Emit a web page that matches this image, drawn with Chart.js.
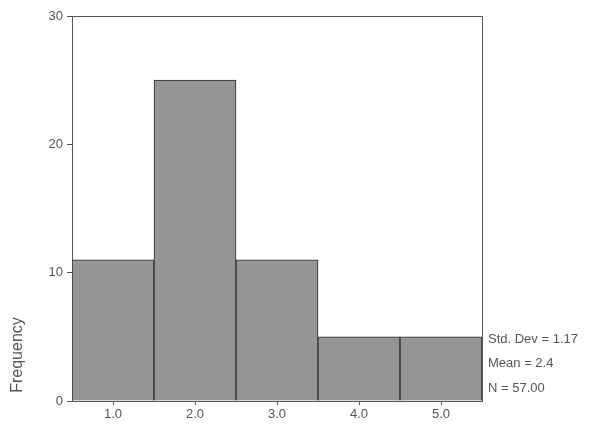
<!DOCTYPE html>
<html>
<head>
<meta charset="utf-8">
<script src="https://cdn.jsdelivr.net/npm/chart.js@4/dist/chart.umd.min.js"></script>
<style>
  html, body { margin: 0; padding: 0; background: #fff; }
  #wrap { width: 593px; height: 428px; }
</style>
</head>
<body>
<div id="wrap"><canvas id="histChart" width="593" height="428"></canvas></div>
<script>
// histogram bins and counts
const binLabels = ['1.0', '2.0', '3.0', '4.0', '5.0'];
const frequencies = [11, 25, 11, 5, 5];
const yTicks = [0, 10, 20, 30];
const statLines = ['Std. Dev = 1.17', 'Mean = 2.4', 'N = 57.00'];
const yTitle = 'Frequency';

// frame on top/right plus the side texts
const extrasPlugin = {
    id: 'extras',
    afterDraw(chart) {
        const { ctx, chartArea } = chart;
        ctx.save();
        ctx.strokeStyle = '#555';
        ctx.lineWidth = 1;
        ctx.beginPath();
        ctx.moveTo(chartArea.left, chartArea.top + 0.5);
        ctx.lineTo(chartArea.right + 0.5, chartArea.top + 0.5);
        ctx.lineTo(chartArea.right + 0.5, chartArea.bottom);
        ctx.stroke();

        ctx.fillStyle = '#555';
        ctx.font = '13px "Liberation Sans", Arial, sans-serif';
        ctx.textAlign = 'left';
        ctx.textBaseline = 'middle';
        statLines.forEach((t, i) => {
            ctx.fillText(t, chartArea.right + 6, 339 + i * 24.5);
        });

        ctx.translate(18, 355);
        ctx.rotate(-Math.PI / 2);
        ctx.textAlign = 'center';
        ctx.font = '16px "Liberation Sans", Arial, sans-serif';
        ctx.fillText(yTitle, 0, 0);
        ctx.restore();
    }
};

new Chart(document.getElementById('histChart'), {
    type: 'bar',
    data: {
        labels: binLabels,
        datasets: [{
            data: frequencies,
            backgroundColor: '#959595',
            borderColor: '#2a2a2a',
            borderWidth: 1,
            categoryPercentage: 1.0,
            barPercentage: 1.0
        }]
    },
    options: {
        responsive: false,
        animation: false,
        layout: { padding: { top: 16, right: 111, left: 0, bottom: 0 } },
        plugins: { legend: { display: false }, tooltip: { enabled: false } },
        scales: {
            x: {
                grid: { display: true, drawOnChartArea: false, offset: false, tickLength: 4, color: '#555' },
                border: { color: '#555' },
                ticks: { color: '#555', font: { size: 13, family: '"Liberation Sans", Arial, sans-serif' }, padding: 2 },
                afterFit: (s) => { s.height = 27; }
            },
            y: {
                min: 0,
                max: 30,
                afterBuildTicks: (s) => { s.ticks = yTicks.map(v => ({ value: v })); },
                grid: { display: true, drawOnChartArea: false, tickLength: 5, color: '#555' },
                border: { color: '#555' },
                ticks: { color: '#555', font: { size: 13, family: '"Liberation Sans", Arial, sans-serif' }, padding: 4 },
                afterFit: (s) => { s.width = 72; }
            }
        }
    },
    plugins: [extrasPlugin]
});
</script>
</body>
</html>
